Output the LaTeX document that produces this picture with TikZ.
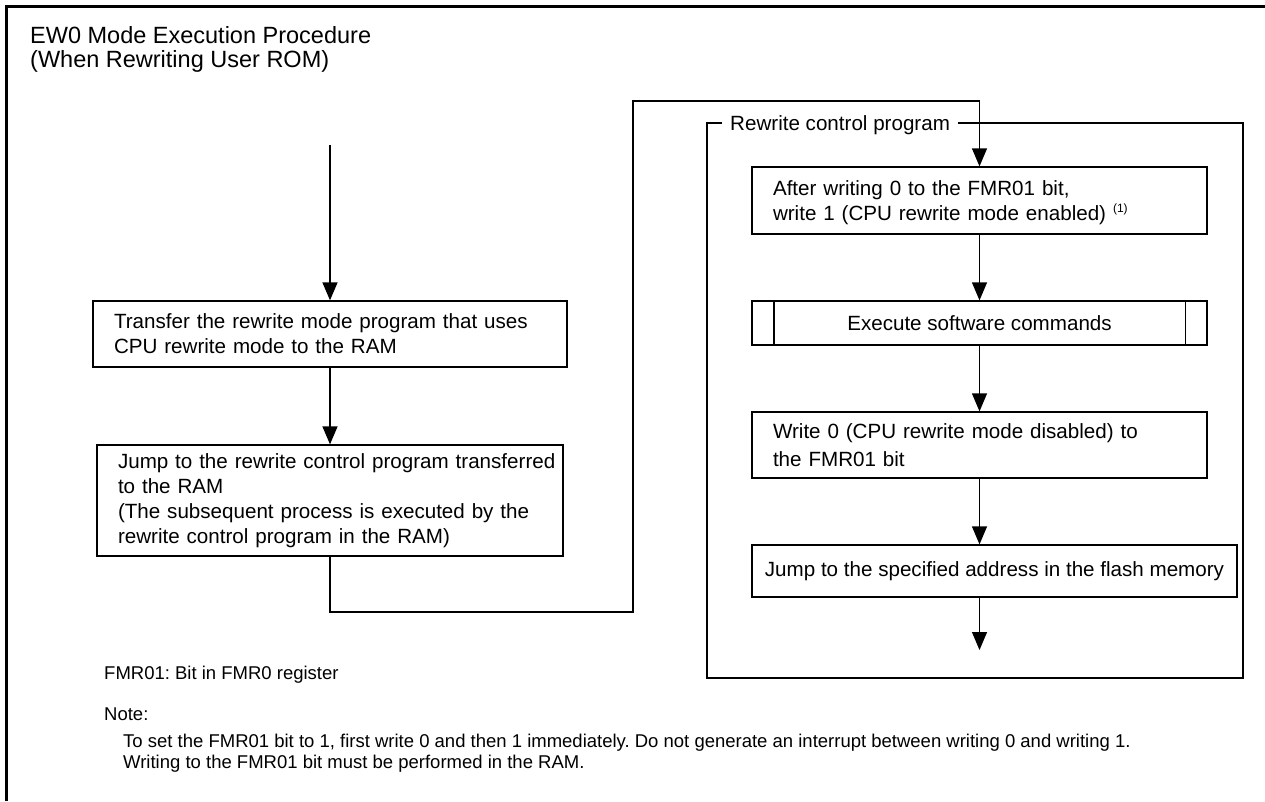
\documentclass[tikz,border=0pt]{standalone}
\usepackage{fontspec}
\setmainfont{Liberation Sans}
\usetikzlibrary{arrows.meta,calc}
\frenchspacing
\newcommand{\bxl}[1]{\hspace*{21pt}\mbox{#1}}
\begin{document}
\begin{tikzpicture}[x=1pt,y=-1pt,
  every node/.style={inner sep=0pt},
  box/.style={draw, line width=1.3pt, inner sep=0pt, font=\fontsize{20.6}{25}\selectfont},
  lbox/.style={box, align=left, text width=#1},
  conn/.style={line width=1.3pt, line join=miter},
  arr/.style={conn, -{Triangle[width=15pt,length=18pt]}},
  small/.style={font=\fontsize{18.5}{21}\selectfont, anchor=base west},
  ttl/.style={font=\fontsize{23.5}{28}\selectfont, anchor=base west}
]
\useasboundingbox (0,0) rectangle (1265,801);
% outer frame (top and left visible)
\draw[line width=3pt] (6.5,801) -- (6.5,6.5) -- (1265,6.5);

% title
\node[ttl] (title1) at (30,43) {EW0 Mode Execution Procedure};
\node[ttl] (title2) at (30,67) {(When Rewriting User ROM)};

% left column
\node[lbox=474pt, minimum height=66pt] (b1) at (330,334)
  {\bxl{Transfer the rewrite mode program that uses}\\\bxl{CPU rewrite mode to the RAM}};
\node[lbox=466pt, minimum height=111pt] (b2) at (330,500.5)
  {\bxl{Jump to the rewrite control program transferred}\\\bxl{to the RAM}\\\bxl{(The subsequent process is executed by the}\\\bxl{rewrite control program in the RAM)}};

% group frame
\draw[conn] (707,123) rectangle (1243,678);
\node[fill=white, inner xsep=8pt, inner ysep=4pt, anchor=base west,
      font=\fontsize{20.6}{25}\selectfont] (grp) at (722,130.5) {Rewrite control program};

% right column
\node[draw, line width=1.3pt, minimum width=455pt, minimum height=67pt] (b3) at (979.5,200.5) {};
\node[lbox=455pt, draw=none, anchor=center] (b3t) at ($(b3.center)+(0,2.5)$)
  {\bxl{After writing 0 to the FMR01 bit,}\\\bxl{write 1 (CPU rewrite mode enabled) {\fontsize{12}{12}\selectfont\raisebox{8pt}{(1)}}}};
\node[box, minimum width=455pt, minimum height=44pt] (b4) at (979.5,323)
  {Execute software commands};
\draw[conn] ([xshift=22.5pt]b4.north west) -- ([xshift=22.5pt]b4.south west);
\draw[conn] ([xshift=-22.5pt]b4.north east) -- ([xshift=-22.5pt]b4.south east);
\node[lbox=455pt, minimum height=66pt, font=\fontsize{20.6}{27.5}\selectfont] (b5) at (979.5,445)
  {\bxl{Write 0 (CPU rewrite mode disabled) to}\\\bxl{the FMR01 bit}};
\node[box, minimum width=485pt, minimum height=52pt] (b6) at (994.5,571)
  {Jump to the specified address in the flash memory};

% connectors
\coordinate (start) at (330,145);
\coordinate (c1) at (330,612);
\coordinate (c2) at (633,612);
\coordinate (c3) at (633,101);
\coordinate (c4) at (979.5,101);
\coordinate (end) at (979.5,650);
\draw[arr] (start) -- (b1.north);
\draw[arr] (b1.south) -- (b2.north);
\draw[arr] (b2.south) -- (c1) -- (c2) -- (c3) -- (c4) -- (b3.north);
\draw[arr] (b3.south) -- (b4.north);
\draw[arr] (b4.south) -- (b5.north);
\draw[arr] (b5.south) -- (b5.south |- b6.north);
\draw[arr] (b6.south -| end) -- (end);

% notes
\node[small] (fn) at (104,679) {FMR01: Bit in FMR0 register};
\node[small] (note) at (104,720) {Note:};
\node[small] (n1) at (123,747) {To set the FMR01 bit to 1, first write 0 and then 1 immediately. Do not generate an interrupt between writing 0 and writing 1.};
\node[small] (n2) at (123,768) {Writing to the FMR01 bit must be performed in the RAM.};
\end{tikzpicture}
\end{document}
